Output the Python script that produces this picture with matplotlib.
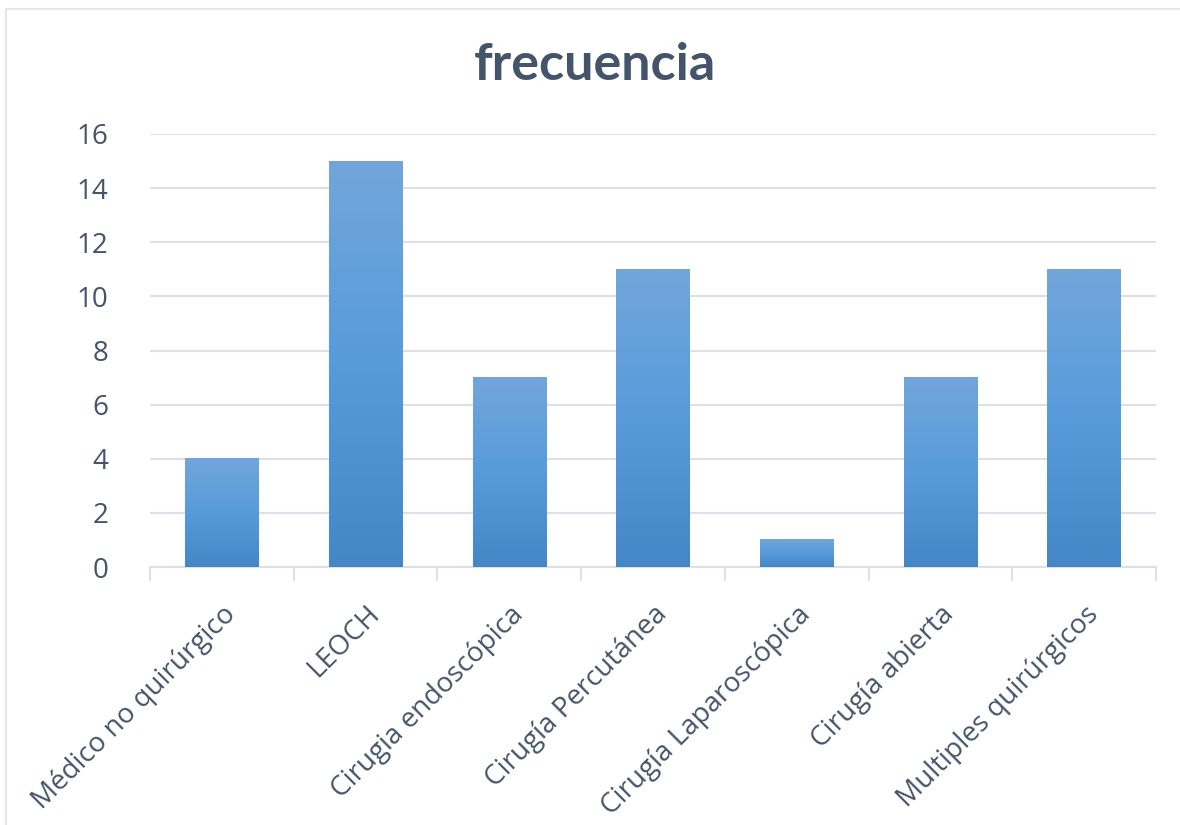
import numpy as np
import matplotlib
matplotlib.use('Agg')
import matplotlib.pyplot as plt
from matplotlib.colors import LinearSegmentedColormap
from matplotlib.lines import Line2D

# datos
categorias = ['Médico no quirúrgico', 'LEOCH', 'Cirugia endoscópica', 'Cirugía Percutánea',
              'Cirugía Laparoscópica', 'Cirugía abierta', 'Multiples quirúrgicos']
frecuencia = [4, 15, 7, 11, 1, 7, 11]
yticks = [0, 2, 4, 6, 8, 10, 12, 14, 16]

texto = '#44546A'
rejilla = '#DDE1E7'

fig = plt.figure(figsize=(11.8, 8.25), dpi=100)
ax = fig.add_axes([150/1180, 1-567/825, (1156-150)/1180, (567-134)/825])

x = np.arange(len(categorias))
barras = ax.bar(x, frecuencia, width=0.51, color='none', zorder=3)

# degradado vertical en cada barra
cmap = LinearSegmentedColormap.from_list('grad', ['#4387C6', '#579BDB', '#72A6DA'])
grad = np.linspace(0, 1, 256).reshape(-1, 1)
for b in barras:
    x0, y0 = b.get_x(), b.get_y()
    ax.imshow(grad, cmap=cmap, origin='lower', aspect='auto', zorder=3,
              extent=(x0, x0 + b.get_width(), y0, y0 + b.get_height()))

ax.set_xlim(-0.5, len(categorias) - 0.5)
ax.set_ylim(0, 16)
ax.set_yticks(yticks)
ax.set_xticks(x)
ax.set_xticklabels(categorias, rotation=45, ha='right', rotation_mode='anchor',
                   fontsize=20, fontname='Open Sans', color=texto)
ax.set_xticks(np.arange(-0.5, len(categorias)), minor=True)
ax.tick_params(axis='x', which='major', length=0, pad=24)
ax.tick_params(axis='x', which='minor', length=10, width=1.5, color=rejilla)
ax.tick_params(axis='y', length=0, pad=30, labelsize=20, labelcolor=texto)
for lab in ax.get_yticklabels():
    lab.set_fontname('Open Sans')

ax.grid(axis='y', color=rejilla, linewidth=1.5, zorder=0)
ax.set_axisbelow(True)
for s in ['top', 'right', 'left']:
    ax.spines[s].set_visible(False)
ax.spines['bottom'].set_color(rejilla)
ax.spines['bottom'].set_linewidth(1.5)

fig.text(595/1180, 1-66/825, 'frecuencia', ha='center', va='center',
         fontsize=37.5, fontweight='bold', fontname='Lato', color=texto)

# borde del gráfico
fig.add_artist(Line2D([6/1180, 6/1180], [0, 1-9/825], color='#E3E6EA', linewidth=1.5))
fig.add_artist(Line2D([6/1180, 1], [1-9/825, 1-9/825], color='#E3E6EA', linewidth=1.5))

fig.savefig('out.png', dpi=100)
